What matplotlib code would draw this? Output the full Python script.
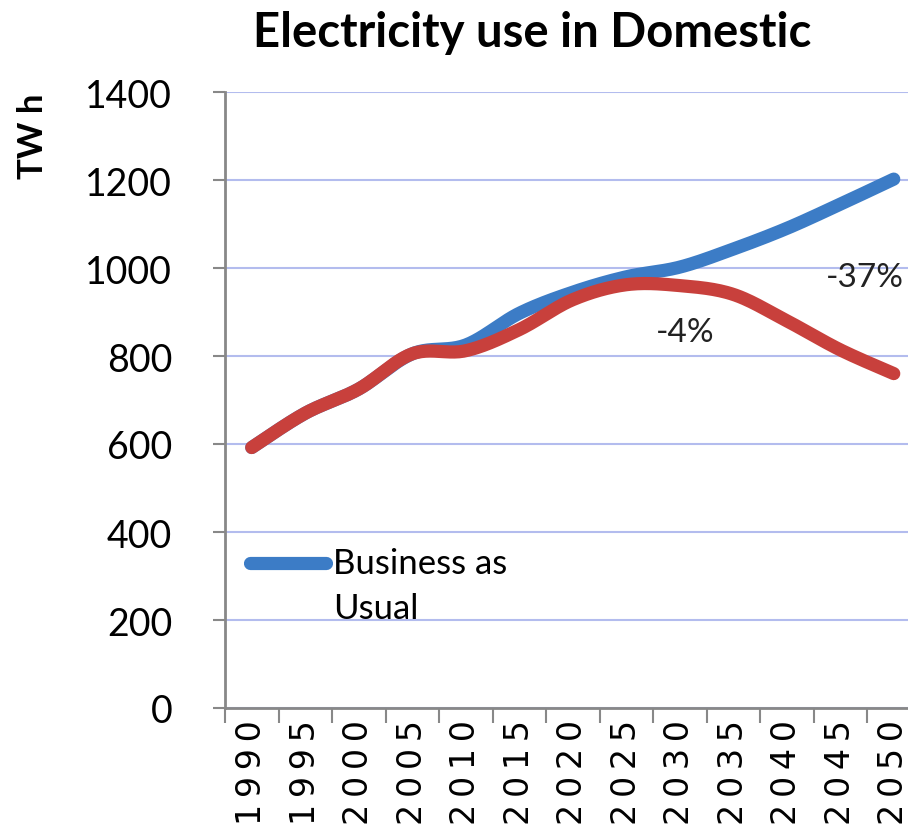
import matplotlib
matplotlib.use("Agg")
import matplotlib.pyplot as plt
from matplotlib.lines import Line2D
from matplotlib.legend_handler import HandlerLine2D
from matplotlib.transforms import Affine2D
import numpy as np

years = [1990, 1995, 2000, 2005, 2010, 2015, 2020, 2025, 2030, 2035, 2040, 2045, 2050]
bau = [592, 670, 725, 805, 825, 897, 945, 980, 1002, 1043, 1090, 1145, 1202]
policy = [592, 670, 725, 805, 812, 860, 928, 962, 960, 940, 880, 814, 760]
y_ticks = [0, 200, 400, 600, 800, 1000, 1200, 1400]
title = "Electricity use in Domestic"
ylabel = "TW h"
legend_label = "Business as\nUsual"
notes = [("-4%", 2030.5, 855), ("-37%", 2047.3, 980)]


def smooth(xv, yv, n=24):
    """Catmull-Rom path through the points (drawing style like Excel's smoothed line)."""
    p = np.column_stack([xv, yv]).astype(float)
    ext = np.vstack([p[0], p, p[-1]])
    out = []
    t = np.linspace(0, 1, n, endpoint=False)[:, None]
    for i in range(1, len(ext) - 2):
        p0, p1, p2, p3 = ext[i - 1], ext[i], ext[i + 1], ext[i + 2]
        m1 = (p2 - p0) / 2
        m2 = (p3 - p1) / 2
        h00 = 2 * t**3 - 3 * t**2 + 1
        h10 = t**3 - 2 * t**2 + t
        h01 = -2 * t**3 + 3 * t**2
        h11 = t**3 - t**2
        out.append(h00 * p1 + h10 * m1 + h01 * p2 + h11 * m2)
    out.append(p[-1][None, :])
    c = np.vstack(out)
    return c[:, 0], c[:, 1]


class FirstLineHandler(HandlerLine2D):
    """Place the legend line level with the first text line."""
    def __init__(self, dy, **kw):
        super().__init__(**kw)
        self.dy = dy

    def create_artists(self, legend, orig_handle, xdescent, ydescent, width, height,
                       fontsize, trans):
        arts = super().create_artists(legend, orig_handle, xdescent, ydescent, width,
                                      height, fontsize, trans)
        for a in arts:
            a.set_transform(a.get_transform() + Affine2D().translate(0, self.dy))
        return arts


W, H = 908, 829
fig = plt.figure(figsize=(W / 100, H / 100), dpi=100)
left, right, bottom, top = 225, 920.5, 709, 93
ax = fig.add_axes([left / W, (H - bottom) / H, (right - left) / W, (bottom - top) / H])

xs = list(range(len(years)))
blue = "#3C7CC6"
red = "#C8403C"
bx, by = smooth(xs, bau)
rx, ry = smooth(xs, policy)
ax.plot(bx, by, color=blue, lw=9.5, solid_capstyle="round", solid_joinstyle="round", zorder=3)
ax.plot(rx, ry, color=red, lw=9.5, solid_capstyle="round", solid_joinstyle="round", zorder=4)

ax.set_xlim(-0.5, len(years) - 0.5)
ax.set_ylim(0, 1400)
ax.set_yticks(y_ticks)
ax.set_yticklabels([str(v) for v in y_ticks], fontfamily="Lato", fontsize=27)
ax.tick_params(axis="y", length=9, width=1.5, color="#888888", pad=29)

ax.set_xticks(xs)
ax.set_xticklabels(["\u2009".join(str(y)) for y in years], rotation=90, va="top",
                   fontfamily="DejaVu Sans", fontsize=24)
ax.tick_params(axis="x", which="major", length=0, pad=8)
ax.set_xticks([x - 0.5 for x in range(len(years) + 1)], minor=True)
ax.tick_params(axis="x", which="minor", length=11, width=1.5, color="#888888")

ax.grid(axis="y", color="#B3BCEE", lw=1.5, zorder=1)
ax.set_axisbelow(True)
for s in ["top", "right"]:
    ax.spines[s].set_visible(False)
for s in ["left", "bottom"]:
    ax.spines[s].set_color("#888888")
    ax.spines[s].set_linewidth(2)

for txt, yr, val in notes:
    ax.text((yr - years[0]) / 5, val, txt, fontfamily="Lato", fontsize=24,
            ha="center", va="center", color="#222222", zorder=5)

handle = Line2D([], [], color=blue, lw=9.5, solid_capstyle="round")
leg = ax.legend([handle], [legend_label], loc="upper left", bbox_to_anchor=(0.036, 0.262),
                frameon=False, prop={"family": "Lato", "size": 25}, handlelength=2.2,
                handletextpad=0.2, borderaxespad=0, borderpad=0,
                handler_map={Line2D: FirstLineHandler(23)})
for t in leg.get_texts():
    t.set_linespacing(1.5)

fig.text(532 / W, 1 - 33 / H, title, fontfamily="Lato", fontweight="bold",
         fontsize=34, ha="center", va="center")
fig.text(33 / W, 1 - 136 / H, ylabel, fontfamily="Lato", fontweight="bold",
         fontsize=25, rotation=90, ha="center", va="center")

fig.savefig("out.png", dpi=100)
